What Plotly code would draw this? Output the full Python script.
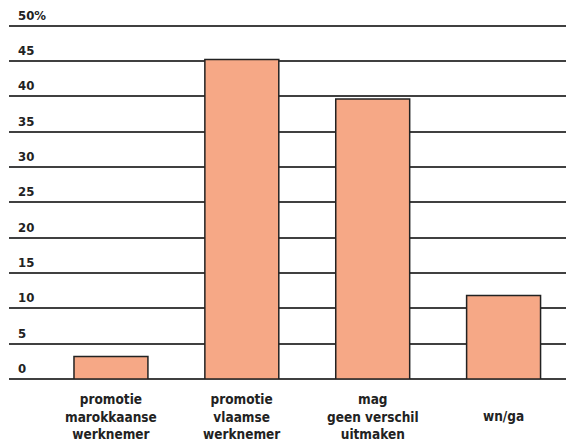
import plotly.graph_objects as go

categories = ["promotie<br>marokkaanse<br>werknemer", "promotie<br>vlaamse<br>werknemer",
              "mag<br>geen verschil<br>uitmaken", "wn/ga"]
values = [3.2, 45.2, 39.6, 11.8]
tick_vals = [0, 5, 10, 15, 20, 25, 30, 35, 40, 45, 50]
tick_text = ["0", "5", "10", "15", "20", "25", "30", "35", "40", "45", "50%"]

FONT = "DejaVu Sans Condensed, Liberation Sans Narrow, Arial Narrow, sans-serif"
x_idx = list(range(len(categories)))

fig = go.Figure(go.Bar(
    x=x_idx, y=values, width=0.565,
    marker=dict(color="#F6A886", line=dict(color="#222222", width=1.5)),
))

annotations = []
for v, t in zip(tick_vals, tick_text):
    annotations.append(dict(x=0, xref="paper", y=v, yref="y", text="<b>%s</b>" % t,
                            showarrow=False, xanchor="left", yanchor="bottom",
                            xshift=7, yshift=1,
                            font=dict(family=FONT, size=13, color="#222222")))
for i, c in zip(x_idx, categories):
    annotations.append(dict(x=i, xref="x", y=0, yref="y", text="<b>%s</b>" % c,
                            showarrow=False, xanchor="center", yanchor="middle",
                            yshift=-37, align="center",
                            font=dict(family=FONT, size=13.5, color="#222222")))

fig.update_layout(
    width=566, height=436,
    margin=dict(l=1, r=0, t=14, b=65),
    paper_bgcolor="white", plot_bgcolor="white",
    showlegend=False,
    annotations=annotations,
    xaxis=dict(range=[-0.779, 3.538], showticklabels=False, showgrid=False,
               zeroline=False, showline=False, ticks=""),
    yaxis=dict(range=[0, 50.5], tickvals=tick_vals, showticklabels=False,
               showgrid=True, gridcolor="#404040", gridwidth=1.5,
               zeroline=True, zerolinecolor="#404040", zerolinewidth=1.5,
               showline=False, ticks=""),
)

fig.write_html("out.html")
